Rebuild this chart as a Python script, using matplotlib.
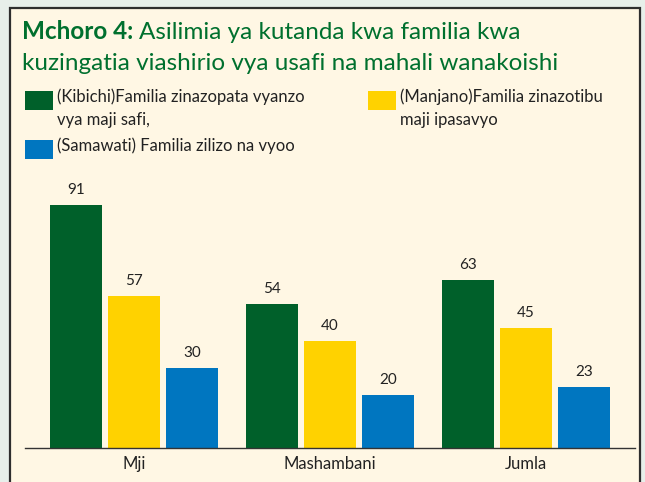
import matplotlib.pyplot as plt
import numpy as np
from matplotlib.patches import Rectangle

plt.rcParams['font.family'] = ['Lato', 'DejaVu Sans']

categories = ['Mji', 'Mashambani', 'Jumla']
maji_safi = [91, 54, 63]
tibu_maji = [57, 40, 45]
vyoo = [30, 20, 23]

series = [
    ('(Kibichi)Familia zinazopata vyanzo\nvya maji safi,', maji_safi, '#00602a'),
    ('(Manjano)Familia zinazotibu\nmaji ipasavyo', tibu_maji, '#ffd200'),
    ('(Samawati) Familia zilizo na vyoo', vyoo, '#0076c0'),
]

W, H = 645, 482
fig = plt.figure(figsize=(W / 100, H / 100), dpi=100)
fig.patch.set_facecolor('#e7efea')

# cream frame
fig.patches.append(Rectangle((10 / W, -0.05), 630 / W, 1.05 - 8 / H,
                             transform=fig.transFigure, facecolor='#fff7e4',
                             edgecolor='#2e2e2e', linewidth=1.6, zorder=-5))

ax = fig.add_axes([25 / W, 34 / H, 610 / W, 267 / H])
ax.set_facecolor('none')
ax.set_zorder(2)

x = np.arange(len(categories))
width = 0.265
offset = 0.296
for i, (label, vals, col) in enumerate(series):
    pos = x + (i - 1) * offset
    bars = ax.bar(pos, vals, width, color=col)
    for p, v in zip(pos, vals):
        ax.text(p, v + 3, str(v), ha='center', va='bottom', fontsize=11, color='#222222')

ax.set_xlim(-0.556, 2.556)
ax.set_ylim(0, 100)
ax.set_xticks(x)
ax.set_xticklabels(categories, fontsize=12, color='#222222')
ax.tick_params(axis='x', length=0, pad=6)
ax.set_yticks([])
for s in ['top', 'left', 'right']:
    ax.spines[s].set_visible(False)
ax.spines['bottom'].set_color('#333333')
ax.spines['bottom'].set_linewidth(1.0)

# title
green = '#00702e'
t1 = fig.text(22 / W, 1 - 39 / H, 'Mchoro 4:', fontsize=17.5, fontweight='bold',
              color=green, va='baseline')
fig.canvas.draw()
bb = t1.get_window_extent()
fig.text(bb.x1 / W + 6 / W, 1 - 39 / H, 'Asilimia ya kutanda kwa familia kwa',
         fontsize=17.5, color=green, va='baseline')
fig.text(22 / W, 1 - 70 / H, 'kuzingatia viashirio vya usafi na mahali wanakoishi',
         fontsize=17.5, color=green, va='baseline')

# legend
legend_pos = [(25, 91), (368, 91), (25, 140)]
for (lx, ly), (label, vals, col) in zip(legend_pos, series):
    fig.patches.append(Rectangle((lx / W, 1 - (ly + 19) / H), 28 / W, 19 / H,
                                 transform=fig.transFigure, facecolor=col,
                                 edgecolor='none', zorder=2))
    fig.text((lx + 32) / W, 1 - (ly - 3) / H, label, fontsize=12, color='#222222',
             va='top', linespacing=1.6)

fig.savefig('out.png', dpi=100, facecolor=fig.get_facecolor())
